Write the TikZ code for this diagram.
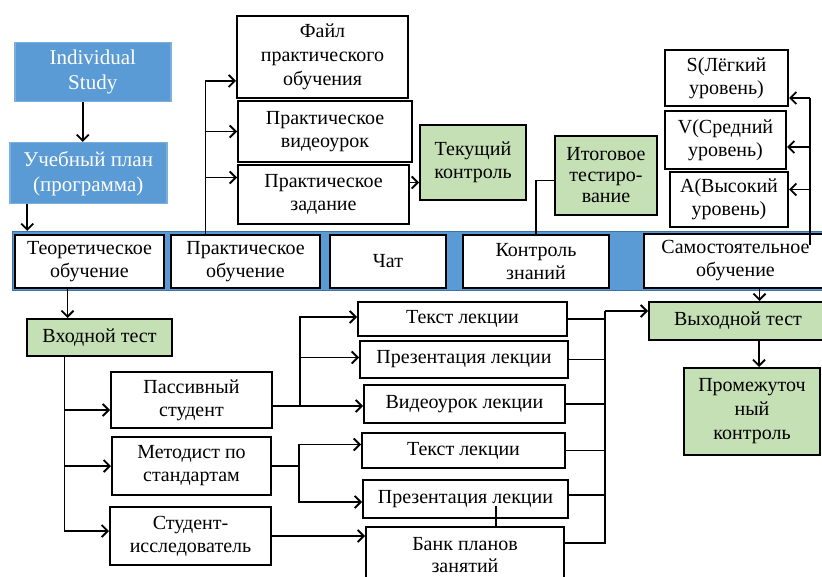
\documentclass[tikz,border=0pt]{standalone}
\usepackage{fontspec}
\setmainfont{Liberation Serif}
\usetikzlibrary{arrows.meta,calc}
\definecolor{bandblue}{HTML}{5B9BD5}
\definecolor{banddark}{HTML}{41719C}
\definecolor{lightgreen}{HTML}{C5E0B4}
\begin{document}
\begin{tikzpicture}[x=1pt,y=-1pt,
  box/.style={draw=black, line width=2pt, fill=white, align=center, inner sep=0pt,
    font=\fontsize{20}{23}\selectfont, anchor=north west},
  bluebox/.style={box, fill=bandblue, draw=bandblue!80!white, line width=1.5pt, text=white,
    font=\fontsize{21}{25}\selectfont},
  greenbox/.style={box, fill=lightgreen},
  conn/.style={draw=black, line width=1.8pt},
  arr/.style={conn, -{Straight Barb[length=6pt,width=12pt]}},
]
\useasboundingbox (0,0) rectangle (822,577);

% header blocks
\node[bluebox, minimum width=156pt, minimum height=59pt] (IS) at (14,42) {Individual\\Study};
\node[bluebox, minimum width=157pt, minimum height=61pt] (UP) at (9,142) {Учебный план\\(программа)};

% blue band with the five modules
\node[anchor=north west, fill=bandblue, draw=banddark, line width=1pt, inner sep=0pt,
  minimum width=814pt, minimum height=59pt] (band) at (12,231) {};
\node[box, minimum width=149pt, minimum height=53pt] (T1) at (14,234) {Теоретическое\\обучение};
\node[box, minimum width=149pt, minimum height=53pt] (T2) at (170,234) {Практическое\\обучение};
\node[box, minimum width=116pt, minimum height=53pt] (T3) at (329,234) {Чат};
\node[box, minimum width=146pt, minimum height=53pt] (T4) at (462,234) {Контроль\\знаний};
\node[box, minimum width=183pt, minimum height=54pt] (T5) at (643,233) {Самостоятельное\\обучение};

% practical training
\node[box, minimum width=171pt, minimum height=82pt, font=\fontsize{20}{24}\selectfont] (F1) at (236,15) {Файл\\практического\\обучения};
\node[box, minimum width=174pt, minimum height=61pt] (F2) at (237,100) {Практическое\\видеоурок};
\node[box, minimum width=171pt, minimum height=59pt] (F3) at (237,164) {Практическое\\задание};
\node[greenbox, minimum width=106pt, minimum height=75pt] (Tek) at (419,124) {Текущий\\контроль};
\node[greenbox, minimum width=102pt, minimum height=79pt, font=\fontsize{20}{21}\selectfont] (It) at (554,135) {Итоговое\\тестиро-\\вание};

% levels
\node[box, minimum width=123pt, minimum height=56pt] (S) at (664,49) {S(Лёгкий\\уровень)};
\node[box, minimum width=121pt, minimum height=58pt] (V) at (664,110) {V(Средний\\уровень)};
\node[box, minimum width=118pt, minimum height=55pt] (A) at (669,171) {A(Высокий\\уровень)};

% tests
\node[greenbox, minimum width=145pt, minimum height=37pt] (Vh) at (26,318) {Входной тест};
\node[greenbox, minimum width=178pt, minimum height=38pt] (Vy) at (648,301) {Выходной тест};
\node[greenbox, minimum width=136pt, minimum height=87pt, font=\fontsize{20}{24}\selectfont] (Pr) at (683,367) {Промежуточ\\ный\\контроль};

% student types
\node[box, minimum width=161pt, minimum height=56pt] (Pas) at (110,371) {Пассивный\\студент};
\node[box, minimum width=159pt, minimum height=58pt] (Met) at (111,436) {Методист по\\стандартам};
\node[box, minimum width=161pt, minimum height=58pt] (Iss) at (109,506) {Студент-\\исследователь};

% lecture materials
\node[box, minimum width=209pt, minimum height=34pt] (L1) at (357,301) {Текст лекции};
\node[box, minimum width=208pt, minimum height=37pt] (L2) at (359,340) {Презентация лекции};
\node[box, minimum width=201pt, minimum height=38pt] (L3) at (363,384) {Видеоурок лекции};
\node[box, minimum width=203pt, minimum height=35pt] (L4) at (361,432) {Текст лекции};
\node[box, minimum width=205pt, minimum height=38pt] (L5) at (362,479) {Презентация лекции};
\node[box, minimum width=198pt, minimum height=56pt, font=\fontsize{20}{22}\selectfont] (L6) at (365,526) {Банк планов\\занятий};

% entry points on box sides
\coordinate (f1w) at ([yshift=-24pt]F1.west);
\coordinate (f3w) at ([yshift=17pt]F3.west);
\coordinate (f3e) at ([yshift=12pt]F3.east);
\coordinate (vve) at ([yshift=-7pt]V.east);
\coordinate (ave) at ([yshift=10pt]A.east);
\coordinate (pasw) at ([yshift=-10pt]Pas.west);
\coordinate (issw) at ([yshift=5pt]Iss.west);
\coordinate (l1w) at ([yshift=2pt]L1.west);
\coordinate (l2w) at ([yshift=2pt]L2.west);
\coordinate (l4w) at ([yshift=6pt]L4.west);
\coordinate (l5w) at ([yshift=-3pt]L5.west);
\coordinate (l5e) at ([yshift=4pt]L5.east);
\coordinate (l6e) at ([yshift=12pt]L6.east);

% connectors: top part
\draw[arr] ([xshift=-10pt]IS.south) -- ([xshift=-10pt]IS.south |- UP.north);
\draw[arr] ([xshift=-61pt]UP.south) -- ([xshift=-61pt]UP.south |- band.north);

\coordinate (jt) at ([xshift=-40pt]T2.north);
\draw[arr] (jt) |- (f1w);
\draw[arr] (jt |- F2.west) -- (F2.west);
\draw[arr] (jt |- f3w) -- (f3w);
\draw[arr] (f3e) -- (f3e -| Tek.west);
\draw[conn] (T4.north) |- ([yshift=-5pt]It.west);

\coordinate (jl) at ([xshift=21pt,yshift=-20pt]S.east);
\draw[conn] (jl) -- (jl |- T5.north) -- ++(0,12);
\draw[arr] (jl) -- (jl -| S.east);
\draw[arr] (jl |- vve) -- (vve);
\draw[arr] (jl |- ave) -- (ave);

\draw[arr] ([xshift=24pt]T5.south) -- ([xshift=24pt]T5.south |- Vy.north);
\draw[arr] ([xshift=21pt]Vy.south) -- ([xshift=21pt]Vy.south |- Pr.north);

% connectors: bottom part
\draw[arr] ([xshift=-22pt]T1.south) -- ([xshift=-22pt]T1.south |- Vh.north);
\coordinate (jv) at ([xshift=-35pt]Vh.south);
\draw[arr] (jv) |- (issw);
\draw[arr] (jv |- pasw) -- (pasw);
\draw[arr] (jv |- Met.west) -- (Met.west);

\draw[conn] ([yshift=-6pt]Pas.east) -- ++(27,0) coordinate (jp);
\draw[arr] (jp) |- (l1w);
\draw[arr] (jp) -- (jp -| L3.west);
\draw[arr] (jp |- l2w) -- (l2w);

\draw[conn] (Met.east) -- ++(27,0) coordinate (jm);
\draw[arr] (jm) |- (l4w);
\draw[arr] (jm) |- (l5w);

\draw[arr] (Iss.east) -- (Iss.east -| L6.west);
\draw[conn] ([xshift=31pt]L6.north) -- ++(0,-20);

% collector to the final test
\draw[conn] (L1.east) -- ++(37,0) coordinate (jr);
\draw[conn] ([yshift=8pt]jr) -- (jr |- l6e) -- (l6e);
\draw[conn] (L2.east) -- (L2.east -| jr);
\draw[conn] (L3.east) -- (L3.east -| jr);
\draw[conn] (L4.east) -- (L4.east -| jr);
\draw[conn] (l5e) -- (l5e -| jr);
\draw[arr] ([yshift=8pt]jr) -- ([yshift=8pt]jr -| Vy.west);
\end{tikzpicture}
\end{document}
